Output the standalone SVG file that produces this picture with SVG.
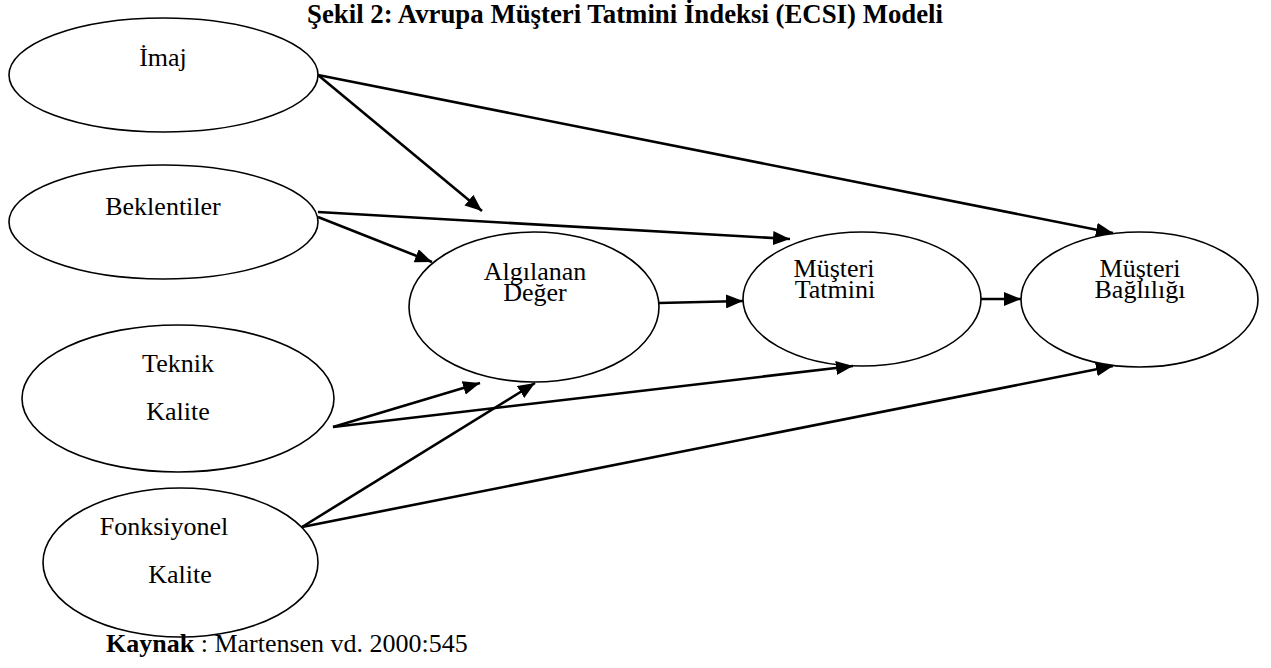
<svg xmlns="http://www.w3.org/2000/svg" width="1271" height="668" viewBox="0 0 1271 668">
<style>
.node ellipse{fill:#fff;stroke:#000;stroke-width:1.6}
text{font-family:"Liberation Serif","Times New Roman",serif;font-size:26px;fill:#000}
.c{text-anchor:middle}
.edges line{stroke:#000;stroke-width:2.6;marker-end:url(#ah)}
.b{font-weight:bold}
.t{font-size:26.8px}
</style>
<defs>
<marker id="ah" markerUnits="userSpaceOnUse" markerWidth="18" markerHeight="14" viewBox="0 0 18 14" refX="17" refY="7" orient="auto">
<path d="M0,0 L17,7 L0,14 z" fill="#000"/>
</marker>
</defs>
<rect width="1271" height="668" fill="#fff"/>
<text x="625" y="23" class="c b t">Şekil 2: Avrupa Müşteri Tatmini İndeksi (ECSI) Modeli</text>
<g id="imaj" class="node"><ellipse cx="163.5" cy="75" rx="154.5" ry="57"/><text x="163" y="66" class="c">İmaj</text></g>
<g id="beklentiler" class="node"><ellipse cx="163.5" cy="222" rx="154.5" ry="57"/><text x="163" y="215" class="c">Beklentiler</text></g>
<g id="algilanan" class="node"><ellipse cx="534" cy="307" rx="125" ry="75"/><text x="535" y="280" class="c">Algılanan</text><text x="535" y="301" class="c">Değer</text></g>
<g id="tatmin" class="node"><ellipse cx="862" cy="299" rx="119" ry="67"/><text x="834" y="277" class="c">Müşteri</text><text x="835" y="298" class="c">Tatmini</text></g>
<g id="baglilik" class="node"><ellipse cx="1139.5" cy="299.5" rx="118.5" ry="67.5"/><text x="1140" y="277" class="c">Müşteri</text><text x="1140" y="298" class="c">Bağlılığı</text></g>
<g id="teknik" class="node"><ellipse cx="178" cy="398.5" rx="156" ry="73.5"/><text x="178" y="372" class="c">Teknik</text><text x="178" y="420" class="c">Kalite</text></g>
<g id="fonksiyonel" class="node"><ellipse cx="180.5" cy="562.5" rx="137.5" ry="74.5"/><text x="164" y="535" class="c">Fonksiyonel</text><text x="180" y="583" class="c">Kalite</text></g>
<g id="connectors" class="edges">
<line x1="318" y1="75" x2="1113" y2="233"/>
<line x1="318" y1="75" x2="482" y2="211"/>
<line x1="318" y1="212" x2="790" y2="239"/>
<line x1="318" y1="217" x2="432" y2="262"/>
<line x1="659" y1="303" x2="743" y2="301"/>
<line x1="981" y1="299" x2="1021" y2="299"/>
<line x1="333" y1="427" x2="480" y2="383"/>
<line x1="333" y1="427" x2="853" y2="366"/>
<line x1="302" y1="527" x2="535" y2="383"/>
<line x1="302" y1="527" x2="1113" y2="366"/>
</g>
<text x="106" y="652"><tspan class="b">Kaynak</tspan> : Martensen vd. 2000:545</text>
</svg>
